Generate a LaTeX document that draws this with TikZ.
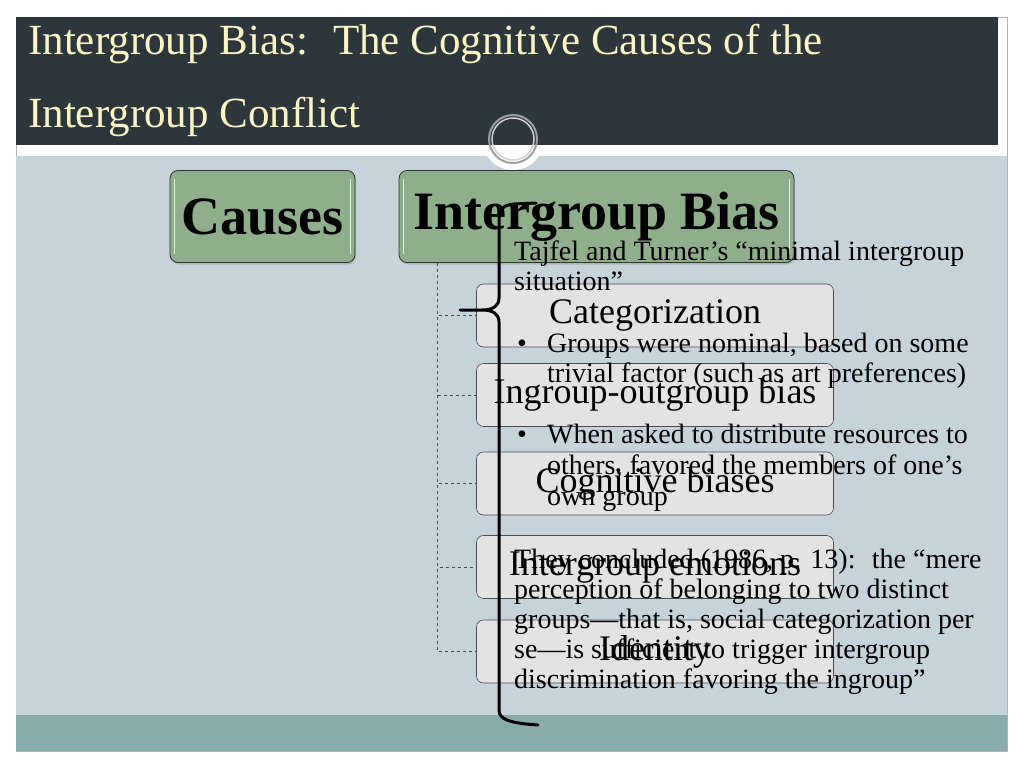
\documentclass[tikz,border=0pt]{standalone}
\usepackage{fontspec}
\setmainfont{Liberation Serif}
\usetikzlibrary{shadows}

\definecolor{titlebar}{HTML}{2C363B}
\definecolor{titletext}{HTML}{FBF5C6}
\definecolor{slidebody}{HTML}{C7D3DA}
\definecolor{slideband}{HTML}{8AABAB}
\definecolor{headgreen}{HTML}{8FAE8B}
\definecolor{childgray}{HTML}{E3E3E3}

\begin{document}
\begin{tikzpicture}[x=1pt,y=-1pt,
  head/.style={draw=black!80,fill=headgreen,rounded corners=8pt,thick,inner sep=0pt,
    font=\fontsize{54}{60}\selectfont\bfseries,
    drop shadow={opacity=0.35,shadow xshift=1pt,shadow yshift=-2pt}},
  child/.style={draw=black!70,fill=childgray,rounded corners=7pt,semithick,
    minimum width=357pt,minimum height=63pt,inner sep=0pt,font=\fontsize{36}{40}\selectfont},
  gloss/.style={white!75!headgreen,line width=1.5pt},
  treeline/.style={gray!60!black,dashed,thin},
  note/.style={anchor=base west,inner sep=0pt,font=\fontsize{28}{30}\selectfont},
  brace/.style={line width=3pt,line cap=round,line join=round}]
\useasboundingbox (0,0) rectangle (1024,768);
\fill[white] (0,0) rectangle (1024,768);
\draw[gray!60,fill=white] (16,17) rectangle (1007,751);
\fill[slidebody] (16,156) rectangle (1007,715);
\fill[slideband] (16,715) rectangle (1007,751);
\fill[white] (513,139) circle (31pt);
\fill[titlebar] (16,17) rectangle (998,145);
\draw[gray!75,line width=2pt] (513,139) circle (24pt);
\draw[gray!35,line width=1.5pt] (513,139) circle (21pt);
\node[anchor=base west,inner sep=0pt,text=titletext,font=\fontsize{43}{50}\selectfont] (title1) at (28,55) {Intergroup Bias:~ The Cognitive Causes of the};
\node[anchor=base west,inner sep=0pt,text=titletext,font=\fontsize{43}{50}\selectfont] (title2) at (28,127) {Intergroup Conflict};

\node[head,minimum width=185pt,minimum height=92pt] (causes) at (262.5,216.5) {Causes};
\node[head,minimum width=395pt,minimum height=92pt] (bias) at (596.5,216.5) {Intergroup Bias};
\foreach \n in {causes,bias} {
  \draw[gloss] ([xshift=5pt,yshift=-9pt]\n.north west) -- ([xshift=5pt,yshift=9pt]\n.south west);
  \draw[gloss] ([xshift=-5pt,yshift=-9pt]\n.north east) -- ([xshift=-5pt,yshift=9pt]\n.south east);
}

\coordinate (trunk) at ([xshift=39pt]bias.south west);
\foreach \n/\y/\txt in {cat/315.5/Categorization,inout/395/Ingroup-outgroup bias,cogn/483.5/Cognitive biases,emot/567/Intergroup emotions,ident/651.5/Identity} {
  \node[child] (\n) at (655,\y) {\txt};
  \draw[treeline] (trunk) |- (\n.west);
}

\foreach \x/\y/\txt [count=\i] in {
  514/260/{Tajfel and Turner’s “minimal intergroup},
  514/290/{situation”},
  547/352/{Groups were nominal, based on some},
  547/382/{trivial factor (such as art preferences)},
  547/443/{When asked to distribute resources to},
  547/474/{others, favored the members of one’s},
  547/505/{own group},
  514/568/{They concluded (1986, p. 13):~ the “mere},
  514/598/{perception of belonging to two distinct},
  514/628/{groups—that is, social categorization per},
  514/658/{se—is sufficient to trigger intergroup},
  514/688/{discrimination favoring the ingroup”}}
  \node[note] (line\i) at (\x,\y) {\txt};
\node[note] (dot1) at (517,352) {•};
\node[note] (dot2) at (517,443) {•};

\draw[brace] (536,203) -- (514,204) .. controls (502,205) and (499,210) .. (499,222)
  -- (499,298) .. controls (499,306) and (493,310) .. (482,310) -- (460,310) -- (482,310)
  .. controls (493,310) and (499,314) .. (499,322) -- (499,710)
  .. controls (499,719) and (508,723) .. (538,725);
\end{tikzpicture}
\end{document}
